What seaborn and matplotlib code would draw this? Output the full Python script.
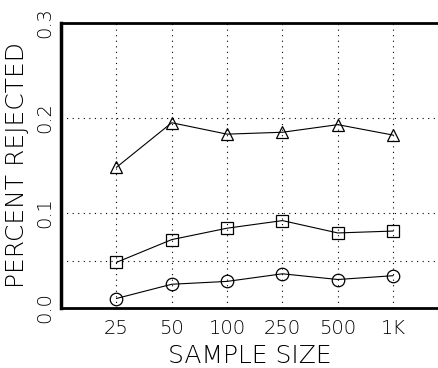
import matplotlib
matplotlib.use("Agg")
import matplotlib.pyplot as plt
import seaborn as sns
import pandas as pd

sizes = ["25", "50", "100", "250", "500", "1K"]
triangle_vals = [0.148, 0.195, 0.183, 0.185, 0.193, 0.182]
square_vals = [0.048, 0.072, 0.084, 0.092, 0.079, 0.081]
circle_vals = [0.010, 0.025, 0.028, 0.036, 0.030, 0.034]
y_ticks = [0.0, 0.1, 0.2, 0.3]
y_grid = [0.05, 0.1, 0.2]

sns.set_theme(style="white")
plt.rcParams['font.family'] = ['DejaVu Sans']
plt.rcParams['text.color'] = 'black'
plt.rcParams['axes.labelcolor'] = 'black'

fig = plt.figure(figsize=(4.38, 3.68), dpi=100)
ax = fig.add_axes([61/438, 60/368, 1 - 61/438, 285/368])

pos = list(range(len(sizes)))
for vals, mk in [(triangle_vals, "^"), (square_vals, "s"), (circle_vals, "o")]:
    df = pd.DataFrame({"x": pos, "y": vals})
    sns.lineplot(data=df, x="x", y="y", ax=ax, color="black", lw=0.8,
                 marker=mk, markersize=9, markerfacecolor="none",
                 markeredgecolor="black", markeredgewidth=0.9, zorder=3)

ax.set_xlim(-1, 5.81)
ax.set_ylim(0, 0.3)
ax.set_xticks(pos)
ax.set_xticklabels(sizes)
ax.set_yticks(y_ticks)
ax.set_yticklabels([f"{v:.1f}" for v in y_ticks], rotation=90, va="center")

for xv in pos:
    ax.axvline(xv, color="black", lw=0.8, ls=(0, (1, 4)), zorder=1)
for yv in y_grid:
    ax.axhline(yv, color="black", lw=0.8, ls=(0, (1, 4)), zorder=1)

ax.tick_params(axis="both", length=0, labelsize=14, colors="black")
ax.tick_params(axis="x", pad=8)
ax.tick_params(axis="y", pad=5)
for lab in ax.get_xticklabels() + ax.get_yticklabels():
    lab.set_fontweight("light")

ax.set_xlabel("SAMPLE SIZE", fontsize=18, fontweight="light", labelpad=4)
ax.set_ylabel("PERCENT REJECTED", fontsize=18, fontweight="light", labelpad=4)

for s in ["left", "top", "bottom"]:
    ax.spines[s].set_visible(True)
    ax.spines[s].set_color("black")
ax.spines["left"].set_linewidth(2.5)
ax.spines["top"].set_linewidth(2.0)
ax.spines["bottom"].set_linewidth(2.0)
ax.spines["right"].set_visible(False)

fig.savefig("out.png", dpi=100)
